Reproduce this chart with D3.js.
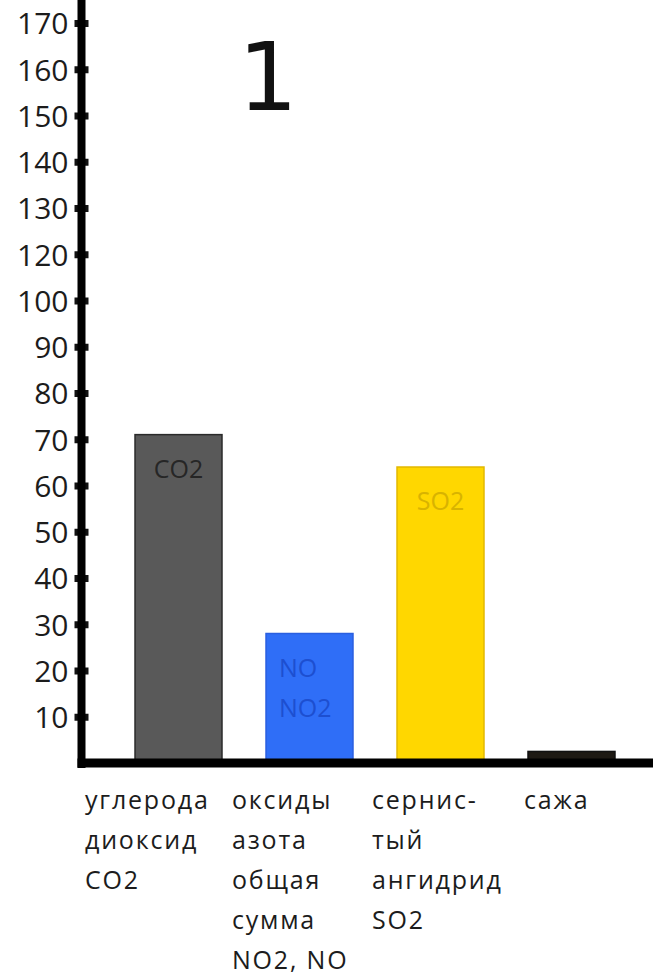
<!DOCTYPE html>
<html>
<head>
<meta charset="utf-8">
<script src="https://cdn.jsdelivr.net/npm/d3@7/dist/d3.min.js"></script>
<style>
  html, body { margin: 0; padding: 0; background: #fff; }
  svg { display: block; }
  text { font-family: "Open Sans", "Noto Sans", sans-serif; fill: #1c1c1c; }
</style>
</head>
<body>
<svg id="chart" width="653" height="980"></svg>
<script>
// Emissions by pollutant
const categories = ["углерода диоксид CO2", "оксиды азота общая сумма NO2, NO", "сернистый ангидрид SO2", "сажа"];
const categoryLines = [
  ["углерода", "диоксид", "CO2"],
  ["оксиды", "азота", "общая", "сумма", "NO2, NO"],
  ["сернис-", "тый", "ангидрид", "SO2"],
  ["сажа"]
];
const values = [71, 28, 64, 2.5];
const barText = [["CO2"], ["NO", "NO2"], ["SO2"], []];
// axis labels run 10…100, then 120…170 at even spacing
const tickLabels = ["10", "20", "30", "40", "50", "60", "70", "80", "90", "100", "120", "130", "140", "150", "160", "170"];
const title = "1";

// styling
const fills = ["#595959", "#2f6ef7", "#ffd700", "#1e1a14"];
const strokes = ["#2a2a2a", "#2a5fe0", "#e2b800", "#111"];
const barTextColors = ["#262626", "#1d4fd0", "#d8b300", "#000"];
const barTextAnchor = ["middle", "start", "middle", "middle"];
const labelShift = [-50, -34, -25, -4];

const svg = d3.select("#chart");
const axisX = 81.5, baseY = 763;

const tickPos = tickLabels.map((_, i) => (i + 1) * 10);
const y = d3.scaleLinear().domain([0, 160]).range([baseY, 23]);
const x = d3.scaleBand().domain(categories).range([91, 659]).paddingInner(0.336).paddingOuter(0.336);

// bars
const bars = svg.append("g");
bars.selectAll("rect").data(values).join("rect")
  .attr("x", (d, i) => x(categories[i]))
  .attr("width", x.bandwidth())
  .attr("y", d => y(d))
  .attr("height", d => baseY - y(d))
  .attr("fill", (d, i) => fills[i])
  .attr("stroke", (d, i) => strokes[i])
  .attr("stroke-width", 1.5);

// text inside bars
categories.forEach((c, i) => {
  const anchor = barTextAnchor[i];
  const tx = anchor === "start" ? x(c) + 13 : x(c) + x.bandwidth() / 2;
  barText[i].forEach((t, j) => {
    svg.append("text")
      .attr("x", tx)
      .attr("y", y(values[i]) + 43 + j * 40)
      .attr("text-anchor", anchor)
      .attr("font-size", 25)
      .style("fill", barTextColors[i])
      .text(t);
  });
});

// y axis
const yAxis = d3.axisLeft(y).tickValues(tickPos).tickFormat((d, i) => tickLabels[i]).tickSize(0).tickPadding(13);
const gy = svg.append("g").attr("transform", `translate(${axisX},0)`).call(yAxis);
gy.select(".domain").remove();
gy.selectAll(".tick text").attr("font-size", 30).attr("dy", "0.36em").style("fill", "#1c1c1c").attr("font-family", null);
gy.selectAll(".tick").append("rect")
  .attr("x", -7).attr("y", -3.5).attr("width", 14).attr("height", 7).attr("fill", "#111");

// axis lines
svg.append("line").attr("x1", axisX).attr("x2", axisX).attr("y1", 0).attr("y2", baseY + 5)
  .attr("stroke", "#000").attr("stroke-width", 8);
svg.append("line").attr("x1", axisX - 4).attr("x2", 653).attr("y1", baseY).attr("y2", baseY)
  .attr("stroke", "#000").attr("stroke-width", 9);

// category labels
categories.forEach((c, i) => {
  const t = svg.append("text")
    .attr("x", x(c) + labelShift[i])
    .attr("y", 809)
    .attr("font-size", 25)
    .attr("letter-spacing", 1.8);
  categoryLines[i].forEach((line, j) => {
    t.append("tspan").attr("x", x(c) + labelShift[i]).attr("dy", j === 0 ? 0 : 40).text(line);
  });
});

// title
svg.append("text").attr("x", 268).attr("y", 110).attr("text-anchor", "middle")
  .attr("font-size", 94).attr("font-family", "DejaVu Sans")
  .style("font-family", "DejaVu Sans").style("fill", "#111").text(title);
</script>
</body>
</html>
